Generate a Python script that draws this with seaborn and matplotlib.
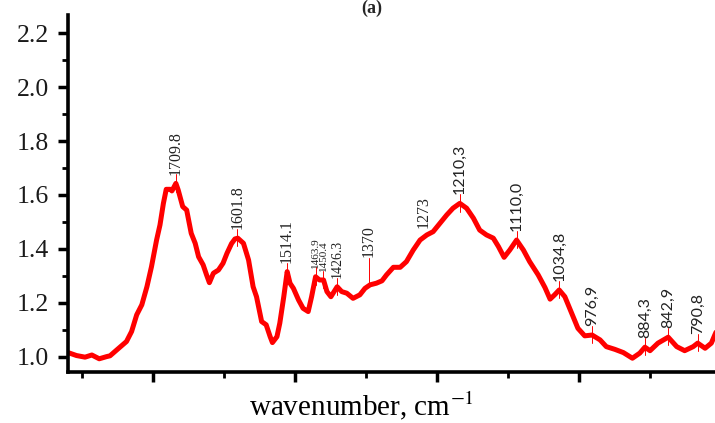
import numpy as np
import pandas as pd
import matplotlib
matplotlib.use("Agg")
import matplotlib.pyplot as plt
import seaborn as sns
from matplotlib.ticker import MultipleLocator, NullFormatter, FixedLocator

wavenumber = [1900, 1885, 1870, 1858, 1845, 1832, 1826, 1814, 1797, 1788, 1779, 1770, 1761, 1753,
              1744, 1738, 1732, 1727, 1720, 1717, 1710, 1706, 1698, 1691, 1683, 1676, 1670, 1662,
              1656, 1651, 1644, 1635, 1627, 1620, 1612, 1606, 1601, 1591, 1582, 1574, 1568, 1559,
              1551, 1544, 1540, 1532, 1527, 1520, 1514, 1509, 1503, 1494, 1486, 1477, 1471, 1464,
              1457, 1450, 1444, 1437, 1426, 1418, 1409, 1398, 1386, 1377, 1368, 1357, 1347, 1339,
              1327, 1315, 1304, 1292, 1280, 1268, 1257, 1245, 1233, 1222, 1210, 1198, 1186, 1175,
              1163, 1151, 1142, 1132, 1122, 1110, 1098, 1087, 1072, 1060, 1051, 1043, 1035, 1025,
              1013, 1002, 990, 977, 963, 952, 937, 922, 906, 893, 884, 875, 861, 843, 828, 814,
              799, 791, 778, 767, 761, 757]
absorbance = [1.016, 1.005, 0.999, 1.007, 0.993, 1.001, 1.004, 1.026, 1.057, 1.094, 1.156, 1.193, 1.260, 1.334,
              1.433, 1.489, 1.569, 1.621, 1.621, 1.615, 1.643, 1.619, 1.557, 1.544, 1.458, 1.421, 1.371, 1.341,
              1.304, 1.275, 1.310, 1.322, 1.347, 1.384, 1.420, 1.437, 1.440, 1.421, 1.359, 1.260, 1.223, 1.131,
              1.119, 1.075, 1.053, 1.075, 1.125, 1.223, 1.316, 1.273, 1.254, 1.211, 1.180, 1.168, 1.223, 1.297,
              1.285, 1.285, 1.242, 1.223, 1.260, 1.242, 1.236, 1.217, 1.230, 1.254, 1.267, 1.273, 1.282, 1.304,
              1.332, 1.332, 1.353, 1.396, 1.433, 1.452, 1.464, 1.495, 1.526, 1.551, 1.569, 1.551, 1.514, 1.470,
              1.452, 1.440, 1.409, 1.369, 1.396, 1.433, 1.396, 1.353, 1.304, 1.257, 1.214, 1.230, 1.248, 1.223,
              1.162, 1.106, 1.078, 1.081, 1.063, 1.038, 1.028, 1.016, 0.995, 1.014, 1.036, 1.023, 1.051, 1.073,
              1.038, 1.023, 1.038, 1.051, 1.032, 1.051, 1.081, 1.100]

peak_positions = [1709.8, 1601.8, 1514.1, 1463.9, 1450.4, 1426.3, 1370, 1273, 1210.3, 1110.0,
                  1034.8, 976.9, 884.3, 842.9, 790.8]
peak_labels = ["1709.8", "1601.8", "1514.1", "1463.9", "1450.4", "1426.3", "1370", "1273", "1210,3",
               "1110,0", "1034,8", "976,9", "884,3", "842,9", "790,8"]

y_ticks = [1.0, 1.2, 1.4, 1.6, 1.8, 2.0, 2.2]
x_major = [1750, 1500, 1250, 1000, 750]
x_minor = [1875, 1625, 1375, 1125, 875]

sns.set_theme(style="ticks")
plt.rcParams["font.family"] = ["Liberation Serif", "DejaVu Serif"]
plt.rcParams["mathtext.fontset"] = "stix"

fig = plt.figure(figsize=(7.15, 4.23), dpi=100)
ax = fig.add_axes([68 / 715, 51 / 423, (721 - 68) / 715, (372 - 15) / 423])

df = pd.DataFrame({"wavenumber": wavenumber, "absorbance": absorbance})
sns.lineplot(data=df, x="wavenumber", y="absorbance", color="#ff0000", linewidth=3.6,
             sort=False, ax=ax, legend=False)

ax.set_xlim(1900, 750)
ax.set_ylim(0.944, 2.267)

wn_arr = np.array(wavenumber)[::-1]
ab_arr = np.array(absorbance)[::-1]
serif = ["Liberation Serif"]
sans = ["Lato", "DejaVu Sans"]
for pos, lab in zip(peak_positions, peak_labels):
    yv = float(np.interp(pos, wn_arr, ab_arr))
    fam = sans if "," in lab else serif
    size = 11.5
    if lab in ("1463.9", "1450.4"):
        size = 8
    if lab == "1426.3":
        size = 10
    if lab == "1370":
        ytext = 1.367
        ax.plot([pos, pos], [yv, ytext], color="#ff0000", lw=0.7)
        ax.text(pos, ytext + 0.003, lab, rotation=90, ha="center", va="bottom",
                family=fam, fontsize=size, color="#222222")
        continue
    if lab == "1273":
        ax.text(pos, 1.478, lab, rotation=90, ha="center", va="bottom",
                family=fam, fontsize=size, color="#222222")
        continue
    ax.plot([pos, pos], [yv - 0.03, yv + 0.035], color="#ff0000", lw=0.7)
    ax.annotate(lab, xy=(pos, yv), xytext=(0, 6.5), textcoords="offset points",
                rotation=90, ha="center", va="bottom", family=fam, fontsize=size,
                color="#222222")

ax.xaxis.set_major_locator(FixedLocator(x_major))
ax.xaxis.set_minor_locator(FixedLocator(x_minor))
ax.xaxis.set_major_formatter(NullFormatter())
ax.set_yticks(y_ticks)
ax.set_yticklabels([f"{v:.1f}" for v in y_ticks])
ax.yaxis.set_minor_locator(MultipleLocator(0.1))

ax.tick_params(axis="both", which="major", direction="out", length=7.5, width=2.5,
               color="black", labelsize=18.5, pad=6)
ax.tick_params(axis="both", which="minor", direction="out", length=4, width=2.0, color="black")
ax.tick_params(axis="y", labelcolor="#1a1a1a")

for side in ("left", "bottom"):
    ax.spines[side].set_linewidth(2.6)
    ax.spines[side].set_color("black")
for side in ("right", "top"):
    ax.spines[side].set_visible(False)

ax.set_xlabel("")
ax.set_ylabel("")
fig.text(362 / 715, 1 - 415 / 423, "wavenumber, cm$^{-1}$", ha="center", va="baseline",
         fontsize=21, color="black")

fig.text(372 / 715, 1.0, "(a)", ha="center", va="top", fontsize=13, fontweight="bold")

fig.savefig("out.png", dpi=100)
